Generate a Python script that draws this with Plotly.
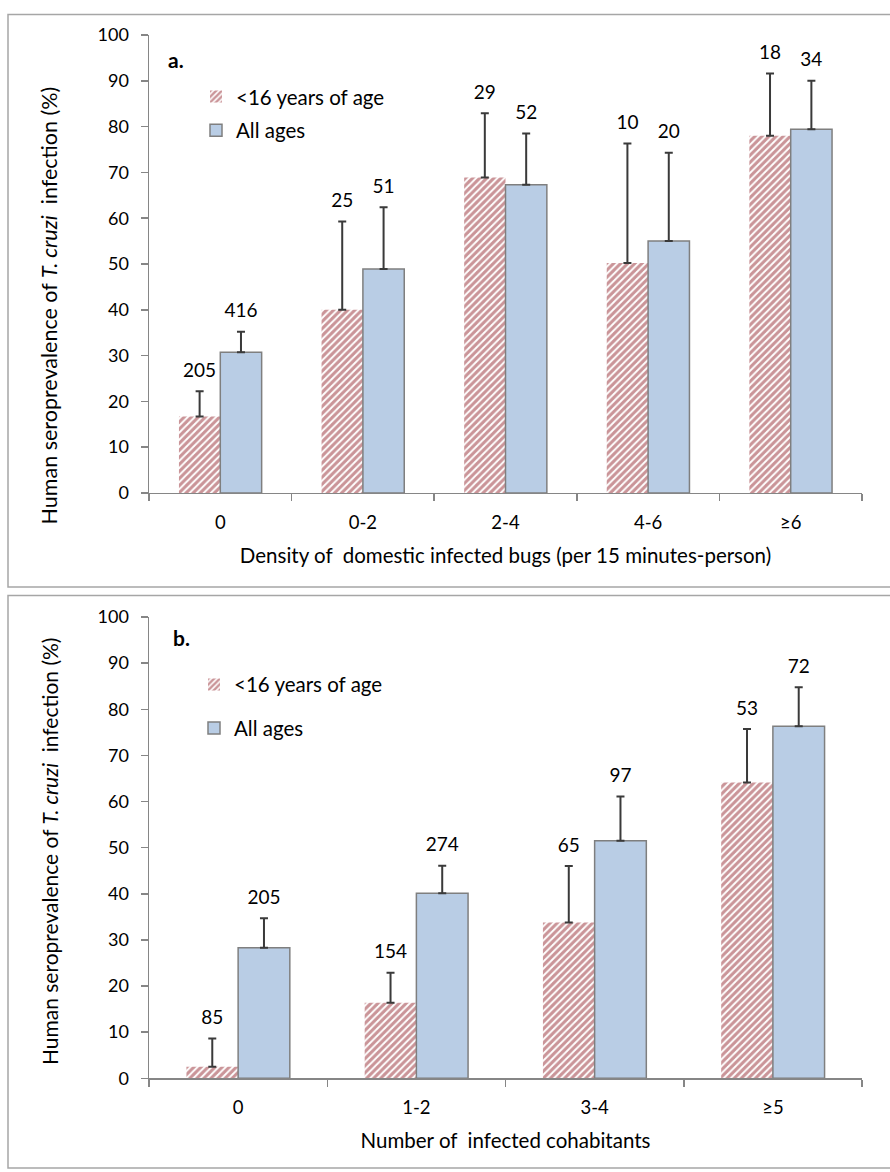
import plotly.graph_objects as go

# ---- Panel a data ----
cats_a = ["0", "0-2", "2-4", "4-6", "≥6"]
young_a = [16.7, 40.0, 68.9, 50.2, 78.0]
young_a_up = [22.2, 59.3, 82.9, 76.3, 91.6]
all_a = [30.7, 48.9, 67.3, 55.0, 79.4]
all_a_up = [35.2, 62.4, 78.5, 74.3, 90.0]
n_young_a = ["205", "25", "29", "10", "18"]
n_all_a = ["416", "51", "52", "20", "34"]

# ---- Panel b data ----
cats_b = ["0", "1-2", "3-4", "≥5"]
young_b = [2.5, 16.4, 33.8, 64.1]
young_b_up = [8.6, 22.9, 46.0, 75.7]
all_b = [28.3, 40.1, 51.5, 76.3]
all_b_up = [34.7, 46.1, 61.1, 84.8]
n_young_b = ["85", "154", "65", "53"]
n_all_b = ["205", "274", "97", "72"]

RED = "#952a31"
BLUE = "#b9cde5"
FONT = "Lato"
W, H = 890, 1182

fig = go.Figure()

def add_panel(cats, yv, yup, av, aup, ny, na, xa, ya, legend):
    err_y = [u - v for u, v in zip(yup, yv)]
    err_a = [u - v for u, v in zip(aup, av)]
    eb = dict(color="#3a3a3a", thickness=2, width=4)
    fig.add_trace(go.Bar(
        x=cats, y=yv, name="<16 years of age", xaxis=xa, yaxis=ya,
        offsetgroup="r", alignmentgroup="g",
        marker=dict(color="white", line=dict(width=0),
                    pattern=dict(shape="/", fgcolor=RED, bgcolor="white",
                                 size=5, solidity=0.62, fillmode="overlay")),
        error_y=dict(type="data", array=err_y, arrayminus=[0]*len(cats),
                     symmetric=False, **eb),
        legend=legend, legendgroup=legend + "r", showlegend=True,
    ))
    fig.add_trace(go.Bar(
        x=cats, y=av, name="All ages", xaxis=xa, yaxis=ya,
        offsetgroup="b", alignmentgroup="g",
        marker=dict(color=BLUE, line=dict(color="#7f7f7f", width=1.5)),
        error_y=dict(type="data", array=err_a, arrayminus=[0]*len(cats),
                     symmetric=False, **eb),
        legend=legend, legendgroup=legend + "b", showlegend=True,
    ))
    for vals, txt, og in ((yup, ny, "r"), (aup, na, "b")):
        fig.add_trace(go.Scatter(
            x=cats, y=vals, text=txt, mode="markers+text", textposition="top center",
            marker=dict(size=14, color="rgba(0,0,0,0)"),
            textfont=dict(family=FONT, size=19, color="black"),
            xaxis=xa, yaxis=ya, offsetgroup=og, alignmentgroup="g",
            showlegend=False, hoverinfo="skip", cliponaxis=False,
        ))

add_panel(cats_a, young_a, young_a_up, all_a, all_a_up, n_young_a, n_all_a,
          "x", "y", "legend")
add_panel(cats_b, young_b, young_b_up, all_b, all_b_up, n_young_b, n_all_b,
          "x2", "y2", "legend2")

xdom = [149 / W, 862 / W]
ya_dom = [1 - 490 / H, 1 - 23.5 / H]
yb_dom = [1 - 1086.5 / H, 1 - 616.5 / H]

axcol = "#868686"
ytitle = "Human seroprevalence of <i>T. cruzi</i>  infection (%)"
common_x = dict(type="category", showline=True, linecolor=axcol, linewidth=1.5,
                ticks="outside", tickson="boundaries", ticklen=7, tickcolor=axcol,
                tickwidth=1.5, tickfont=dict(family=FONT, size=18.5, color="black"),
                ticklabelstandoff=12,
                showgrid=False, zeroline=False)
common_y = dict(range=[0, 100], dtick=10, showline=True, linecolor=axcol,
                linewidth=1.5, ticks="outside", ticklen=7, tickcolor=axcol,
                tickwidth=1.5, tickfont=dict(family=FONT, size=18, color="black"),
                ticklabelstandoff=8,
                showgrid=False, zeroline=False, fixedrange=True)

fig.update_layout(
    width=W, height=H,
    margin=dict(l=0, r=0, t=0, b=0),
    paper_bgcolor="white", plot_bgcolor="white",
    barmode="group", bargap=0.42, bargroupgap=0, scattermode="group",
    font=dict(family=FONT, size=16, color="black"),
    xaxis=dict(domain=xdom, anchor="y",
               title=dict(text="Density of  domestic infected bugs (per 15 minutes-person)",
                          font=dict(family=FONT, size=20.5), standoff=17),
               **common_x),
    yaxis=dict(domain=ya_dom, anchor="x", **common_y),
    xaxis2=dict(domain=xdom, anchor="y2",
                title=dict(text="Number of  infected cohabitants",
                           font=dict(family=FONT, size=20.5), standoff=16),
                **common_x),
    yaxis2=dict(domain=yb_dom, anchor="x2", **common_y),
    legend=dict(x=196 / W, y=1 - 66 / H, xanchor="left", yanchor="top",
                traceorder="grouped", tracegroupgap=4, bgcolor="rgba(0,0,0,0)",
                font=dict(family=FONT, size=20.5), itemwidth=30),
    legend2=dict(x=194 / W, y=1 - 665 / H, xanchor="left", yanchor="top",
                 traceorder="grouped", tracegroupgap=14, bgcolor="rgba(0,0,0,0)",
                 font=dict(family=FONT, size=20.5), itemwidth=30),
    shapes=[
        dict(type="rect", xref="paper", yref="paper", x0=8 / W, x1=1.01,
             y0=1 - 586 / H, y1=1 - 2.5 / H, line=dict(color="#a6a6a6", width=1.5)),
        dict(type="rect", xref="paper", yref="paper", x0=8 / W, x1=1.01,
             y0=1 - 1178 / H, y1=1 - 594.5 / H, line=dict(color="#a6a6a6", width=1.5)),
    ],
    annotations=[
        dict(text="<b>a.</b>", xref="paper", yref="paper", x=166 / W, y=1 - 48 / H,
             xanchor="left", yanchor="middle", showarrow=False,
             font=dict(family=FONT, size=21)),
        dict(text="<b>b.</b>", xref="paper", yref="paper", x=171 / W, y=1 - 637 / H,
             xanchor="left", yanchor="middle", showarrow=False,
             font=dict(family=FONT, size=21)),
        dict(text=ytitle, xref="paper", yref="paper", x=49 / W, y=1 - 299 / H,
             xanchor="center", yanchor="middle", textangle=-90, showarrow=False,
             font=dict(family=FONT, size=21.5)),
        dict(text=ytitle, xref="paper", yref="paper", x=49 / W, y=1 - 855 / H,
             xanchor="center", yanchor="middle", textangle=-90, showarrow=False,
             font=dict(family=FONT, size=21)),
    ],
)

fig.write_html(
    "out.html",
    config={"displayModeBar": False, "staticPlot": True},
    post_script=(
        "document.documentElement.style.margin='0';"
        "document.body.style.margin='0';"
        "document.body.style.overflow='hidden';"
        "var d=document.getElementById('{plot_id}');"
        "d.style.position='fixed';d.style.top='0px';d.style.left='0px';"
    ),
)
